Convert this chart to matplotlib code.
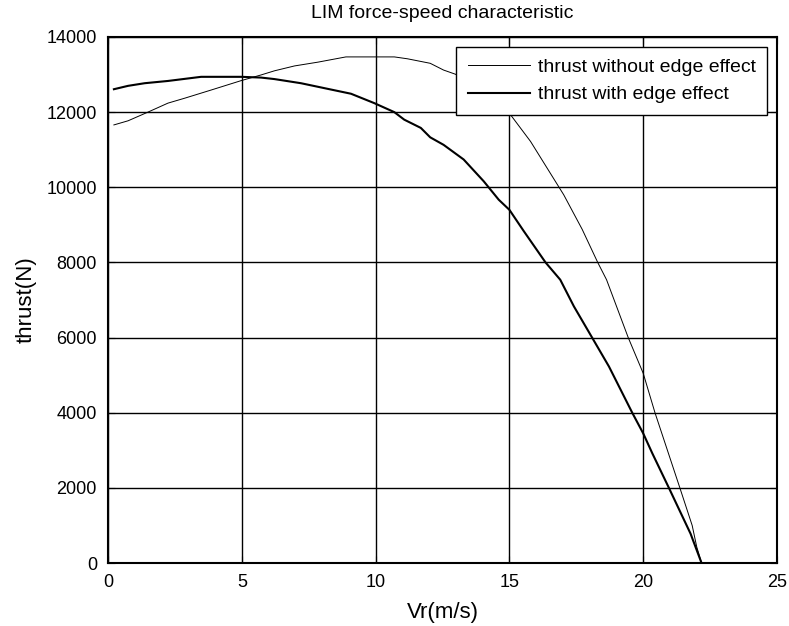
import numpy as np
import matplotlib
matplotlib.use('Agg')
import matplotlib.pyplot as plt

plt.rcParams['font.family'] = ['Liberation Sans', 'DejaVu Sans']

# thrust without edge effect (thin line)
vr_no_edge = [0.22, 0.75, 1.49, 2.24, 2.86, 3.86, 4.98, 5.72, 6.22, 6.97, 7.84, 8.89,
              10.7, 11.19, 12.04, 12.54, 12.98, 13.5, 14.0, 14.5, 15.0, 15.79, 16.41,
              17.03, 17.72, 18.30, 18.63, 19.44, 20.0, 20.44, 21.37, 21.83, 22.0, 22.18]
f_no_edge = [11660, 11770, 12000, 12240, 12370, 12590, 12840, 12990, 13100, 13230, 13330, 13470,
             13470, 13420, 13300, 13120, 13010, 12800, 12580, 12300, 11970, 11220, 10510,
             9800, 8880, 8000, 7540, 6000, 5050, 4000, 2000, 1000, 430, 0]

# thrust with edge effect (thick line)
vr_edge = [0.22, 0.75, 1.37, 2.24, 3.48, 4.98, 5.72, 6.22, 7.21, 8.21, 9.08, 9.95,
           10.7, 11.07, 11.69, 12.04, 12.54, 13.29, 14.04, 14.6, 15.0, 15.54, 16.35,
           16.9, 17.41, 18.09, 18.72, 19.59, 20.0, 20.34, 20.96, 21.77, 22.18]
f_edge = [12610, 12700, 12770, 12830, 12940, 12940, 12920, 12880, 12770, 12620, 12490, 12240,
          12000, 11800, 11580, 11330, 11130, 10740, 10160, 9670, 9400, 8830, 8000,
          7540, 6830, 6000, 5230, 4000, 3450, 2920, 2000, 780, 0]

xticks = [0, 5, 10, 15, 20, 25]
yticks = [0, 2000, 4000, 6000, 8000, 10000, 12000, 14000]

fig = plt.figure(figsize=(7.89, 6.26), dpi=100)
ax = fig.add_axes([0.1369, 0.1006, 0.8479, 0.8403])

ax.plot(vr_no_edge, f_no_edge, color='k', lw=0.7, label='thrust without edge effect')
ax.plot(vr_edge, f_edge, color='k', lw=1.5, label='thrust with edge effect')

ax.set_xlim(0, 25)
ax.set_ylim(0, 14000)
ax.set_xticks(xticks)
ax.set_yticks(yticks)
ax.grid(True, color='k', lw=1.0, ls='-')
ax.set_axisbelow(True)
ax.tick_params(direction='in', top=True, right=True, length=5, labelsize=13, pad=8)
for s in ax.spines.values():
    s.set_linewidth(1.5)

ax.set_title('LIM force-speed characteristic', fontsize=14, pad=14)
ax.set_xlabel('Vr(m/s)', fontsize=16, labelpad=8)
ax.set_ylabel('thrust(N)', fontsize=16, labelpad=7)

leg = ax.legend(loc='upper right', fontsize=14, fancybox=False, framealpha=1,
                edgecolor='k', handlelength=3.2, handletextpad=0.4,
                labelspacing=0.5, borderpad=0.6, borderaxespad=0.5)
leg.get_frame().set_linewidth(1.0)

fig.savefig('out.png', dpi=100)
